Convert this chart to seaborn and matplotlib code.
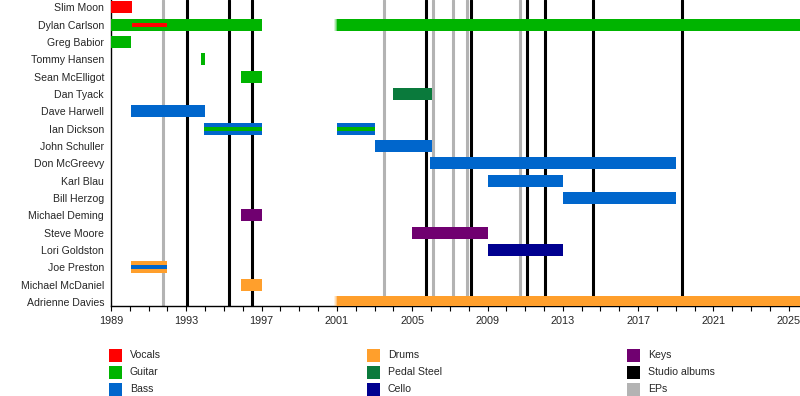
import matplotlib
matplotlib.use("Agg")
import matplotlib.pyplot as plt
from matplotlib.patches import Rectangle
import seaborn as sns

# ---------------- data ----------------
members = ["Slim Moon", "Dylan Carlson", "Greg Babior", "Tommy Hansen", "Sean McElligot",
           "Dan Tyack", "Dave Harwell", "Ian Dickson", "John Schuller", "Don McGreevy",
           "Karl Blau", "Bill Herzog", "Michael Deming", "Steve Moore", "Lori Goldston",
           "Joe Preston", "Michael McDaniel", "Adrienne Davies"]

NOW = 2025.6
bar_member = ["Slim Moon", "Dylan Carlson", "Dylan Carlson", "Greg Babior", "Tommy Hansen",
              "Sean McElligot", "Dan Tyack", "Dave Harwell", "Ian Dickson", "Ian Dickson",
              "John Schuller", "Don McGreevy", "Karl Blau", "Bill Herzog", "Michael Deming",
              "Steve Moore", "Lori Goldston", "Joe Preston", "Michael McDaniel", "Adrienne Davies"]
bar_role = ["Vocals", "Guitar", "Guitar", "Guitar", "Guitar",
            "Guitar", "Pedal Steel", "Bass", "Bass", "Bass",
            "Bass", "Bass", "Bass", "Bass", "Keys",
            "Keys", "Cello", "Drums", "Drums", "Drums"]
bar_start = [1989.0, 1989.0, 2001.0, 1989.0, 1993.8,
             1995.9, 2004.0, 1990.05, 1993.95, 2001.0,
             2003.0, 2005.95, 2009.0, 2013.0, 1995.9,
             2005.0, 2009.0, 1990.05, 1995.9, 2001.0]
bar_end = [1990.1, 1997.0, NOW, 1990.05, 1994.0,
           1997.0, 2006.05, 1994.0, 1997.0, 2003.0,
           2006.05, 2019.0, 2013.0, 2019.0, 1997.0,
           2009.0, 2013.0, 1992.0, 1997.0, NOW]
# bars whose left edge fades in (rejoined members)
fade_member = ["Dylan Carlson", "Adrienne Davies"]
fade_role = ["Guitar", "Drums"]
fade_start = [2001.0, 2001.0]

stripe_member = ["Dylan Carlson", "Ian Dickson", "Ian Dickson", "Joe Preston"]
stripe_role = ["Vocals", "Guitar", "Guitar", "Bass"]
stripe_start = [1990.1, 1993.95, 2001.0, 1990.05]
stripe_end = [1992.0, 1997.0, 2003.0, 1992.0]

studio_albums = [1993.05, 1995.25, 1996.5, 2005.74, 2008.12, 2011.1, 2012.06, 2014.62, 2019.34]
eps = [1991.75, 2003.51, 2006.12, 2007.18, 2007.92, 2010.74]

colors = {"Vocals": "#FF0000", "Guitar": "#00B400", "Bass": "#0066CC",
          "Drums": "#FF9F2C", "Pedal Steel": "#0A7A3C", "Cello": "#000090",
          "Keys": "#700070", "Studio albums": "#000000", "EPs": "#B3B3B3"}

legend_cols = [["Vocals", "Guitar", "Bass"],
               ["Drums", "Pedal Steel", "Cello"],
               ["Keys", "Studio albums", "EPs"]]

tick_years = list(range(1989, 2026, 4))

# ---------------- plot ----------------
sns.set_theme(style="ticks")
plt.rcParams["font.family"] = ["Liberation Sans", "DejaVu Sans"]

W, H = 800, 396
fig = plt.figure(figsize=(W / 100, H / 100), dpi=100)
ax = fig.add_axes([111 / W, 1 - 306 / H, 1 - 111 / W, 306 / H])

pos = {m: i for i, m in enumerate(members)}

for x in eps:
    ax.axvline(x, color=colors["EPs"], lw=2.2, zorder=1)
for x in studio_albums:
    ax.axvline(x, color=colors["Studio albums"], lw=2.2, zorder=1.5)

for m, r, s, e in zip(bar_member, bar_role, bar_start, bar_end):
    ax.barh(pos[m], e - s, left=s, height=0.69, color=colors[r], lw=0, zorder=3)
for m, r, s in zip(fade_member, fade_role, fade_start):
    for k, a in enumerate([0.6, 0.35, 0.15]):
        ax.barh(pos[m], 0.06, left=s - 0.06 * (k + 1), height=0.69,
                color=colors[r], alpha=a, lw=0, zorder=3)
for m, r, s, e in zip(stripe_member, stripe_role, stripe_start, stripe_end):
    ax.barh(pos[m], e - s, left=s, height=0.24, color=colors[r], lw=0, zorder=4)

ax.set_xlim(1989, NOW)
ax.set_ylim(17.23, -0.42)
ax.set_yticks(range(len(members)))
ax.set_yticklabels(members, fontsize=7.6)
ax.set_xticks(tick_years)
ax.set_xticklabels([str(y) for y in tick_years], fontsize=7.8)
ax.set_xticks(range(1989, 2026), minor=True)
ax.tick_params(axis="y", length=0, pad=5)
ax.tick_params(axis="x", which="both", length=3.5, width=0.8, direction="out", pad=4, color="black")
for side in ["top", "right"]:
    ax.spines[side].set_visible(False)
for side in ["left", "bottom"]:
    ax.spines[side].set_color("black")
    ax.spines[side].set_linewidth(1.0)

# legend
col_x = [109, 367, 627]
row_y = [355, 372, 389]
for cx, items in zip(col_x, legend_cols):
    for ry, name in zip(row_y, items):
        fig.add_artist(Rectangle((cx / W, 1 - (ry + 6.5) / H), 13 / W, 13 / H,
                                 transform=fig.transFigure, color=colors[name], lw=0))
        fig.text((cx + 21) / W, 1 - ry / H, name, fontsize=7.6, va="center", ha="left")

fig.savefig("out.png", dpi=100)
